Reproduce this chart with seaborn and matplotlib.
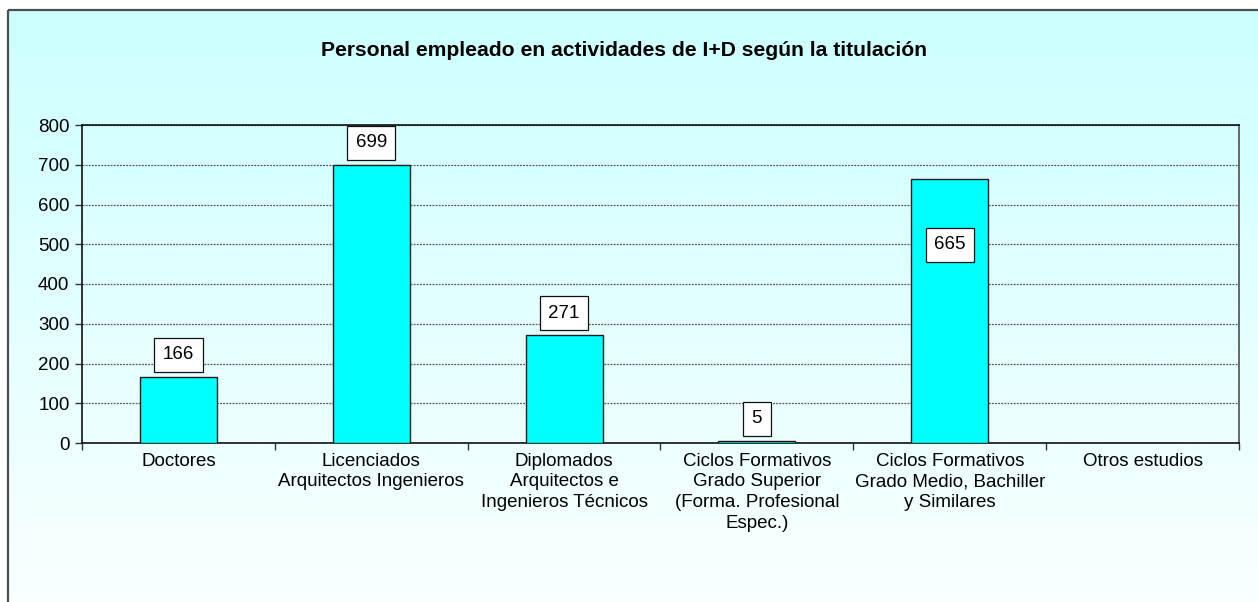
import numpy as np
import matplotlib
matplotlib.use("Agg")
import matplotlib.pyplot as plt
import seaborn as sns
import pandas as pd
from matplotlib.patches import Rectangle

categories = [
    "Doctores",
    "Licenciados\nArquitectos Ingenieros",
    "Diplomados\nArquitectos e\nIngenieros Técnicos",
    "Ciclos Formativos\nGrado Superior\n(Forma. Profesional\nEspec.)",
    "Ciclos Formativos\nGrado Medio, Bachiller\ny Similares",
    "Otros estudios",
]
values = [166, 699, 271, 5, 665, 0]
title = "Personal empleado en actividades de I+D según la titulación"
yticks = [0, 100, 200, 300, 400, 500, 600, 700, 800]

sns.set_theme(style="white")
plt.rcParams["font.family"] = ["Liberation Sans", "DejaVu Sans"]
plt.rcParams["text.color"] = "black"
plt.rcParams["xtick.color"] = "black"
plt.rcParams["ytick.color"] = "black"
plt.rcParams["xtick.labelcolor"] = "black"
plt.rcParams["ytick.labelcolor"] = "black"

W, H = 1258, 602
fig = plt.figure(figsize=(W / 100, H / 100), dpi=100)
fig.patch.set_facecolor("white")

# background gradient inside chart border
bg = fig.add_axes([0, 0, 1, 1], zorder=-5)
bg.set_xlim(0, W)
bg.set_ylim(H, 0)
bg.axis("off")
grad = np.linspace(0, 1, 256).reshape(-1, 1)
top = np.array([0.80, 1.0, 1.0])
bot = np.array([0.98, 1.0, 1.0])
img = top[None, None, :] * (1 - grad[:, :, None]) + bot[None, None, :] * grad[:, :, None]
bg.imshow(img, extent=[8, W + 5, H + 5, 10], aspect="auto", zorder=0)
bg.add_patch(Rectangle((8, 10), W, H, fill=False, edgecolor="#4d4d4d", lw=1.6, zorder=2))

ax = fig.add_axes([82 / W, 1 - 443 / H, (1239 - 82) / W, (443 - 125) / H])
ax.set_facecolor("none")

df = pd.DataFrame({"cat": categories, "val": values})
sns.barplot(data=df, x="cat", y="val", color="#00FFFF", saturation=1,
            edgecolor="#1a1a1a", linewidth=1.0, width=0.4, ax=ax, zorder=3)

ax.set_ylim(0, 800)
ax.set_xlim(-0.5, len(categories) - 0.5)
ax.set_yticks(yticks)
ax.set_yticklabels([str(v) for v in yticks], fontsize=13.5)
ax.yaxis.grid(True, linestyle=(0, (1.5, 1.0)), color="#555555", lw=0.9, zorder=0)
ax.xaxis.grid(False)
ax.set_axisbelow(True)

ax.set_xticks(range(len(categories)))
ax.set_xticklabels(categories, fontsize=13.5, linespacing=1.28)
ax.tick_params(axis="x", which="major", length=0, pad=7)
ax.set_xticks(np.arange(-0.5, len(categories), 1.0), minor=True)
ax.tick_params(axis="x", which="minor", length=5, width=1, color="#333333", direction="out", bottom=True)
ax.tick_params(axis="y", length=5, width=1, color="#333333", direction="out", left=True, pad=4)
ax.set_xlabel("")
ax.set_ylabel("")

for s in ["left", "bottom", "top"]:
    ax.spines[s].set_visible(True)
    ax.spines[s].set_color("#111111")
    ax.spines[s].set_linewidth(1.2)
ax.spines["right"].set_visible(True)
ax.spines["right"].set_color("#666666")
ax.spines["right"].set_linewidth(1.4)

box = dict(boxstyle="square,pad=0.45", facecolor="white", edgecolor="#111111", lw=0.9)
for i, v in enumerate(values):
    if v == 0:
        continue
    if v > 600 and i == 4:
        ax.annotate(str(v), (i, v * 0.75), ha="center", va="center", fontsize=13.5,
                    bbox=box, zorder=5)
    else:
        ax.annotate(str(v), (i, v), xytext=(0, 16), textcoords="offset points",
                    ha="center", va="center", fontsize=13.5, bbox=box, zorder=5)

fig.text(624 / W, 1 - 50 / H, title, ha="center", va="center", fontsize=15.2, fontweight="bold")

fig.savefig("out.png", dpi=100)
